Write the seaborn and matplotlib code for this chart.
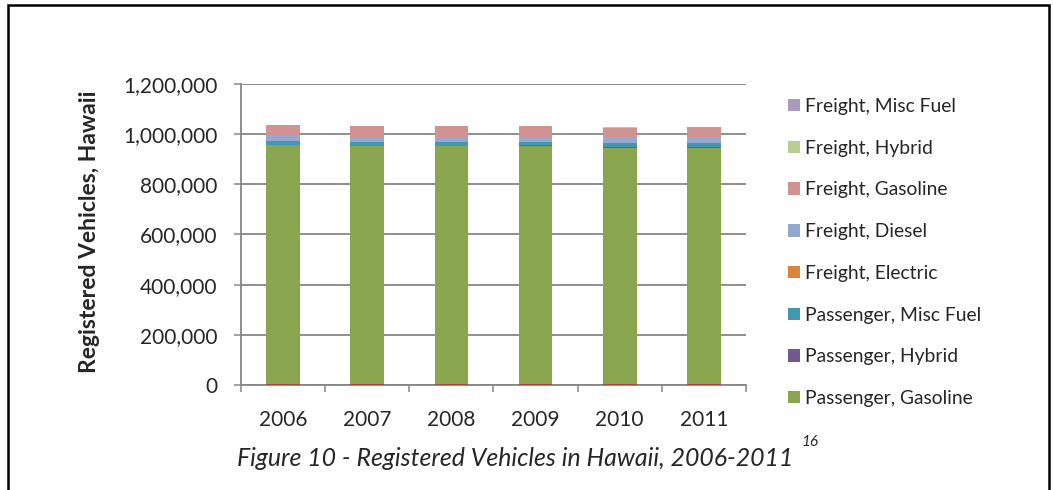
import numpy as np
import pandas as pd
import seaborn as sns
from matplotlib import pyplot as plt
from matplotlib.patches import Patch, Rectangle
from matplotlib.ticker import FuncFormatter, FixedLocator

# data (vehicles), series in stacking order bottom -> top
years = ['2006', '2007', '2008', '2009', '2010', '2011']
series_names = ['Passenger, Electric', 'Passenger, Diesel', 'Passenger, Gasoline',
                'Passenger, Hybrid', 'Passenger, Misc Fuel', 'Freight, Electric',
                'Freight, Diesel', 'Freight, Gasoline', 'Freight, Hybrid',
                'Freight, Misc Fuel']
passenger_electric = [50, 60, 80, 120, 250, 500]
passenger_diesel = [4000, 4000, 4000, 4000, 4000, 4000]
passenger_gasoline = [951500, 947500, 947000, 947000, 941500, 941000]
passenger_hybrid = [2500, 3000, 3500, 4000, 4500, 5000]
passenger_misc = [14500, 14000, 14000, 14000, 13500, 13500]
freight_electric = [100, 100, 100, 100, 100, 100]
freight_diesel = [18500, 19000, 19000, 19000, 20000, 20000]
freight_gasoline = [43500, 44000, 44000, 44000, 42500, 42500]
freight_hybrid = [200, 200, 250, 250, 300, 300]
freight_misc = [1500, 1500, 1500, 1500, 1500, 1500]

colors = ['#4572A7', '#AA4643', '#89A54E', '#71588F', '#4198AF', '#DB843D',
          '#93A9CF', '#D19392', '#B9CD96', '#A99BBD']
# the original legend only shows the top eight series
legend_names = series_names[:1:-1]

values = [passenger_electric, passenger_diesel, passenger_gasoline, passenger_hybrid,
          passenger_misc, freight_electric, freight_diesel, freight_gasoline,
          freight_hybrid, freight_misc]
df = pd.DataFrame(dict(zip(series_names, values)), index=years)
cum = df.cumsum(axis=1)

sns.set_style("white")
plt.rcParams['font.family'] = ['Lato', 'DejaVu Sans']

fig = plt.figure(figsize=(10.53, 4.9), dpi=100)
ax = fig.add_axes([241 / 1053, 1 - 385 / 490, 505 / 1053, 301 / 490])

# stacked bars: draw cumulative totals from the top series down
for name, col in zip(series_names[::-1], colors[::-1]):
    sns.barplot(x=years, y=cum[name].values, color=col, width=0.4,
                saturation=1, ax=ax, zorder=3, linewidth=0)

ax.set_ylim(0, 1200000)
ax.set_xlim(-0.5, 5.5)
ax.set_yticks(np.arange(0, 1200001, 200000))
ax.yaxis.set_major_formatter(FuncFormatter(lambda v, p: f'{v:,.0f}'))
ax.yaxis.grid(True, color='#868686', linewidth=1.3, zorder=0)
ax.set_axisbelow(True)
ax.tick_params(axis='y', which='major', length=5, width=1.1, color='#868686',
               direction='out', labelsize=15, pad=12, left=True)
ax.tick_params(axis='x', which='major', length=0, labelsize=15, pad=18)
ax.xaxis.set_minor_locator(FixedLocator(np.arange(-0.5, 6, 1)))
ax.tick_params(axis='x', which='minor', length=5, width=1.1, color='#868686',
               direction='out', bottom=True)

for s in ['top', 'right']:
    ax.spines[s].set_visible(False)
for s in ['left', 'bottom']:
    ax.spines[s].set_color('#868686')
    ax.spines[s].set_linewidth(1.3)

ax.set_ylabel('Registered Vehicles, Hawaii', fontsize=16.5, fontweight='bold')
ax.yaxis.set_label_coords((100 - 241) / 505, 0.51)

handles = [Patch(facecolor=c, edgecolor='none') for c in colors[:1:-1]]
fig.legend(handles, legend_names, loc='upper left', bbox_to_anchor=(788 / 1053, 1 - 98 / 490),
           frameon=False, fontsize=13.9, handlelength=0.62, handleheight=0.62,
           handletextpad=0.28, labelspacing=1.28, borderpad=0, borderaxespad=0)

# caption with superscript footnote
cap = fig.text(237 / 1053, 1 - 458 / 490, 'Figure 10 - Registered Vehicles in Hawaii, 2006-2011',
               fontsize=17.9, style='italic', va='center', ha='left')
fig.canvas.draw()
bb = cap.get_window_extent()
fig.text((bb.x1 + 8) / 1053, 1 - 442 / 490, '16', fontsize=11, style='italic',
         va='center', ha='left')

# page border
fig.patches.append(Rectangle((8 / 1053, -0.1), 1041 / 1053, 1.1 - 5 / 490,
                             transform=fig.transFigure, fill=False,
                             edgecolor='black', linewidth=1.8))

fig.savefig('out.png', dpi=100)
